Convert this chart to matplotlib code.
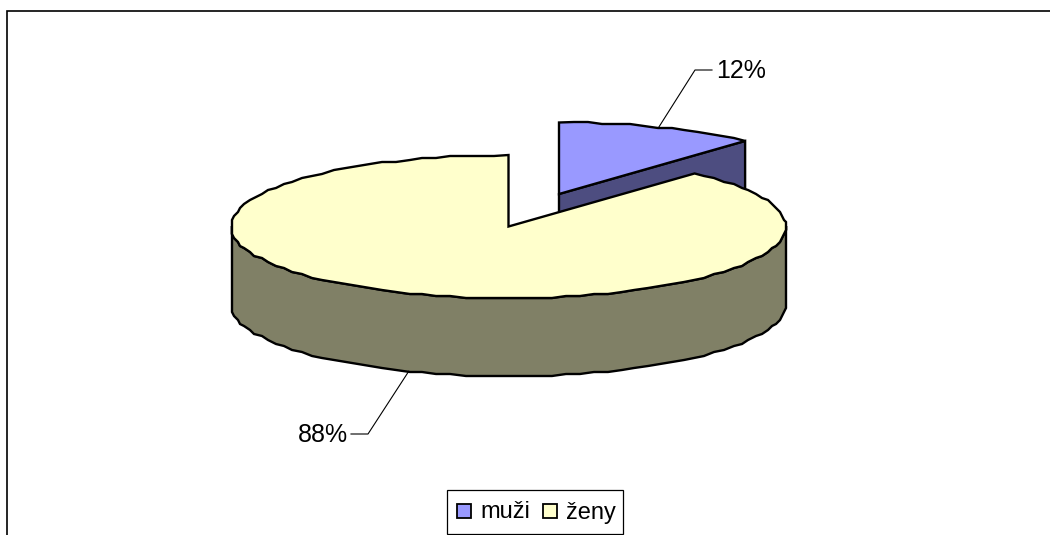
import numpy as np
import matplotlib
matplotlib.use("Agg")
import matplotlib.pyplot as plt
from matplotlib.patches import Polygon, Rectangle

plt.rcParams['font.family'] = ['Liberation Sans', 'DejaVu Sans']

# data
labels = ["muži", "ženy"]
shares = [11.7, 88.3]  # shown rounded, 12 % and 88 %

# colours: top of slice, side of slice
top_colors = ["#9999FF", "#FFFFCC"]
side_colors = ["#4D4D80", "#808066"]

# pie geometry in pixels
cx, cy = 508.5, 226.5
rx, ry = 277.5, 71.5
depth = 78
explode = (50.5, -32.5)
lw = 1.7


def rim(x0, y0, a, b):
    # points on the ellipse, angle in degrees clockwise from top
    # whole 3 degree steps on a 2px grid, so top and side outlines share points
    # and the edge stays a bit jagged like the original
    t = np.radians(np.arange(np.ceil(a / 3) * 3, b + 0.01, 3))
    x = x0 + rx * np.sin(t)
    y = y0 - ry * np.cos(t)
    return np.column_stack([np.round(x / 2) * 2, np.round(y / 2) * 2])


def point(x0, y0, ang):
    return (x0 + rx * np.sin(np.radians(ang)), y0 - ry * np.cos(np.radians(ang)))


fig = plt.figure(figsize=(10.5, 5.35), dpi=100)
ax = fig.add_axes([0, 0, 1, 1])
ax.set_xlim(0, 1050)
ax.set_ylim(535, 0)
ax.axis("off")

# chart border, only top and left fall inside the picture
ax.plot([7, 7, 1052], [537, 11, 11], color="black", lw=1.2, solid_joinstyle="miter")

angles = np.cumsum([0] + shares) * 3.6

# slice 1 (pulled out), cut wall then top
x1, y1 = cx + explode[0], cy + explode[1]
a, b = angles[0], angles[1]
tip = point(x1, y1, b)
wall = [(x1, y1), tip, (tip[0], tip[1] + depth), (x1, y1 + depth)]
ax.add_patch(Polygon(wall, closed=True, fc=side_colors[0], ec="black", lw=lw, zorder=2))
pts = np.vstack([[[x1, y1]], [point(x1, y1, a)], rim(x1, y1, a + 1, b - 1), [tip]])
ax.add_patch(Polygon(pts, closed=True, fc=top_colors[0], ec="black", lw=lw, zorder=3))

# slice 2, outer wall then top
front = rim(cx, cy, 90, 270)
side = np.vstack([front, (front + [0, depth])[::-1]])
ax.add_patch(Polygon(side, closed=True, fc=side_colors[1], ec="black", lw=lw, zorder=4))
a, b = angles[1], angles[2]
pts = np.vstack([[[cx, cy]], [point(cx, cy, a)], rim(cx, cy, a + 1, b - 1), [point(cx, cy, b)]])
ax.add_patch(Polygon(pts, closed=True, fc=top_colors[1], ec="black", lw=lw, zorder=5))

# percent labels with leader lines
mid = (angles[0] + angles[1]) / 2
sx, sy = point(x1, y1, mid)
ax.plot([sx, 695, 712], [sy, 70, 70], color="black", lw=0.8, zorder=6)
ax.text(716, 71, f"{round(shares[0])}%", fontsize=18, ha="left", va="center", color="black")

mid = (angles[1] + angles[2]) / 2
sx, sy = point(cx, cy + depth, mid)
ax.plot([sx, 368, 351], [sy, 434, 434], color="black", lw=0.8, zorder=6)
ax.text(348, 435, f"{round(shares[1])}%", fontsize=18, ha="right", va="center", color="black")

# legend
ax.add_patch(Rectangle((447, 490), 176, 44, fc="white", ec="black", lw=0.9, zorder=6))
for x, name, col in zip([457, 543], labels, top_colors):
    ax.add_patch(Rectangle((x, 504), 14, 14, fc=col, ec="black", lw=1.3, zorder=7))
    ax.text(x + 23, 512.5, name, fontsize=17, ha="left", va="center", color="black", zorder=7)

fig.savefig("out.png", dpi=100)
